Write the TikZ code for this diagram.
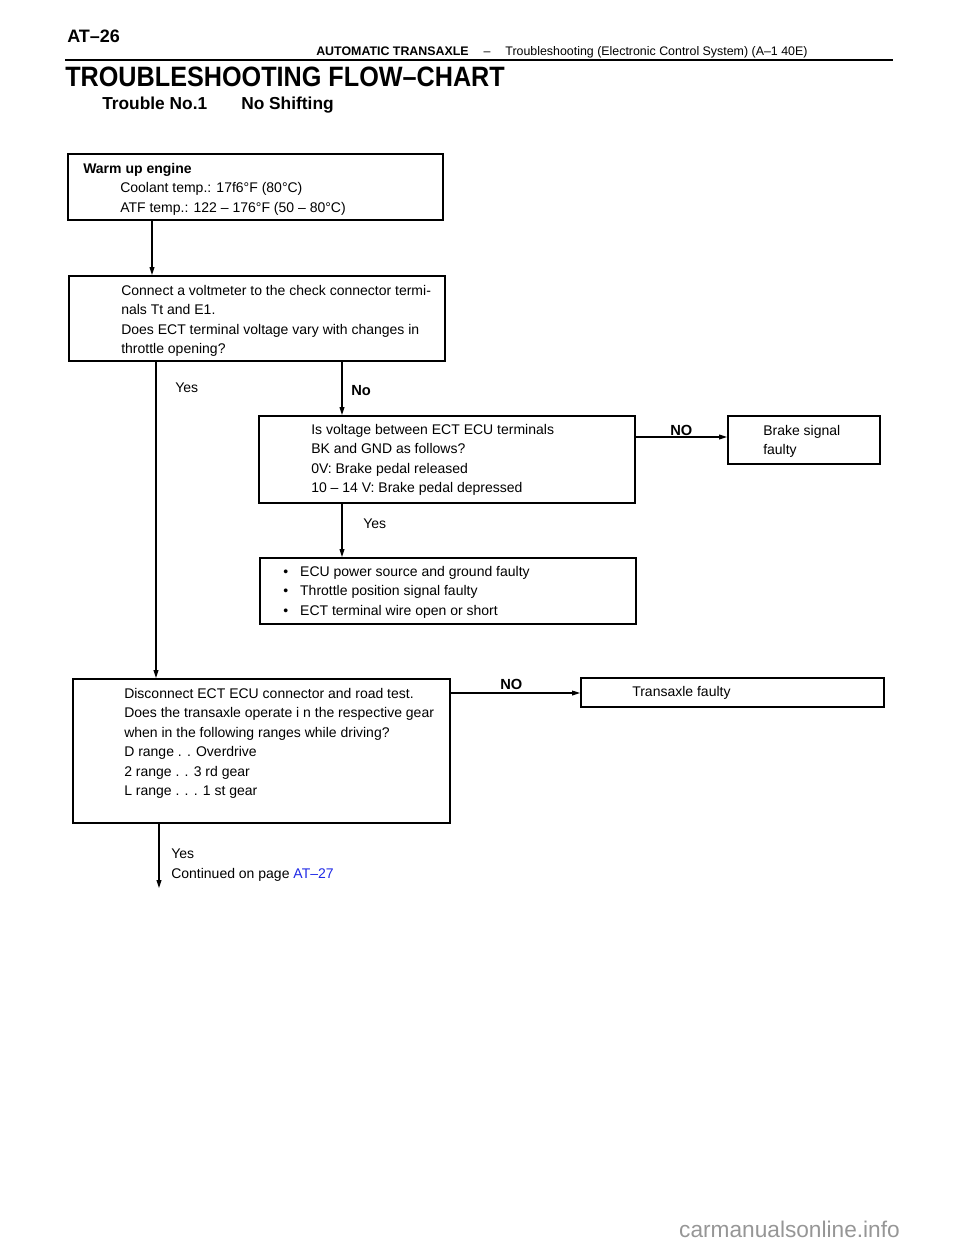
\documentclass[tikz,border=0pt]{standalone}
\usepackage{fontspec}
\setmainfont{Liberation Sans}
\usetikzlibrary{arrows.meta}
\definecolor{linkblue}{RGB}{30,40,230}
\definecolor{wmgray}{RGB}{150,150,150}
\tikzset{
  box/.style={draw=black, line width=1.3pt, anchor=north west, inner sep=0pt},
  txt/.style={anchor=north west, inner sep=0pt, align=left, font=\fontsize{10.5}{14.6}\selectfont},
  lbl/.style={anchor=base west, inner sep=0pt, font=\fontsize{10.5}{12}\selectfont},
  nolbl/.style={anchor=base west, inner sep=0pt, font=\bfseries\fontsize{11}{12}\selectfont},
  flow/.style={line width=0.9pt, -{Triangle[length=6pt,width=3.6pt]}},
}
\begin{document}
\begin{tikzpicture}[x=0.75pt,y=-0.75pt]
\useasboundingbox (0,0) rectangle (960,1242);
% header
\node[anchor=base west, inner sep=0pt, font=\bfseries\fontsize{13.5}{14}\selectfont] (pg) at (67,42.5) {AT--26};
\node[anchor=base west, inner sep=0pt, font=\fontsize{9.3}{10}\selectfont] (hdr) at (316,55.5) {\textbf{AUTOMATIC TRANSAXLE}\hspace{1.2em}--\hspace{1.2em}Troubleshooting (Electronic Control System) (A--1 40E)};
\coordinate (rl) at (65,60);
\coordinate (rr) at (893,60);
\draw[line width=1.2pt] (rl) -- (rr);
\node[anchor=base west, inner sep=0pt, font=\bfseries\fontsize{21}{22}\selectfont] (title) at (65,86) {\scalebox{0.9}[1]{TROUBLESHOOTING FLOW--CHART}};
\node[anchor=base west, inner sep=0pt, font=\bfseries\fontsize{13}{14}\selectfont] (tn) at (102,109) {Trouble No.1};
\node[anchor=base west, inner sep=0pt, font=\bfseries\fontsize{13}{14}\selectfont] (ts) at (241,109) {No Shifting};
% boxes
\node[box, minimum width=281.25pt, minimum height=49.5pt] (A) at (67,153) {};
\node[box, minimum width=282pt, minimum height=63.75pt] (B) at (68,275) {};
\node[box, minimum width=282pt, minimum height=65.25pt] (C) at (258,415) {};
\node[box, minimum width=114pt, minimum height=36pt] (D) at (727,415) {};
\node[box, minimum width=282pt, minimum height=49.5pt] (F) at (259,557) {};
\node[box, minimum width=282.75pt, minimum height=108pt] (E) at (72,678) {};
\node[box, minimum width=227.25pt, minimum height=21.75pt] (G) at (580,677) {};
% texts
\node[txt] (At) at (83,163) {\textbf{Warm up engine}\\
\hspace{27.75pt}Coolant temp.: 17f6\textdegree F (80\textdegree C)\\
\hspace{27.75pt}ATF temp.: 122 -- 176\textdegree F (50 -- 80\textdegree C)};
\node[txt] (Bt) at (121,285) {Connect a voltmeter to the check connector termi-\\
nals Tt and E1.\\
Does ECT terminal voltage vary with changes in\\
throttle opening?};
\node[txt] (Ct) at (311,424) {Is voltage between ECT ECU terminals\\
BK and GND as follows?\\
0V: Brake pedal released\\
10 -- 14 V: Brake pedal depressed};
\node[txt] (Dt) at (763,425) {Brake signal\\faulty};
\node[txt] (Ft) at (283,566) {\textbullet\hspace{9pt}ECU power source and ground faulty\\
\textbullet\hspace{9pt}Throttle position signal faulty\\
\textbullet\hspace{9pt}ECT terminal wire open or short};
\node[txt] (Et) at (124,688) {Disconnect ECT ECU connector and road test.\\
Does the transaxle operate i n the respective gear\\
when in the following ranges while driving?\\
D range . . Overdrive\\
2 range . . 3 rd gear\\
L range . . . 1 st gear};
\node[txt] (Gt) at (632,686) {Transaxle faulty};
% connectors
\draw[flow] (A.south -| 152,0) -- (B.north -| 152,0);
\draw[flow] (B.south -| 156,0) -- (E.north -| 156,0);
\draw[flow] (B.south -| 342,0) -- (C.north -| 342,0);
\draw[flow] (C.east |- 0,437) -- (D.west |- 0,437);
\draw[flow] (C.south -| 342,0) -- (F.north -| 342,0);
\draw[flow] (E.east |- 0,693) -- (G.west |- 0,693);
\coordinate (cont) at (159,888);
\draw[flow] (E.south -| 159,0) -- (cont);
% labels
\node[lbl] (y1) at (175,392) {Yes};
\node[nolbl] (n1) at (351,395.5) {No};
\node[nolbl] (n2) at (670,435.5) {NO};
\node[lbl] (y2) at (363,528) {Yes};
\node[nolbl] (n3) at (500,689.5) {NO};
\node[lbl] (y3) at (171,858) {Yes};
\node[lbl] (y4) at (171,878) {Continued on page \textcolor{linkblue}{AT--27}};
% watermark
\node[anchor=base east, inner sep=0pt, text=wmgray, font=\fontsize{17}{18}\selectfont] (wm) at (900,1237) {carmanualsonline.info};
\end{tikzpicture}
\end{document}
